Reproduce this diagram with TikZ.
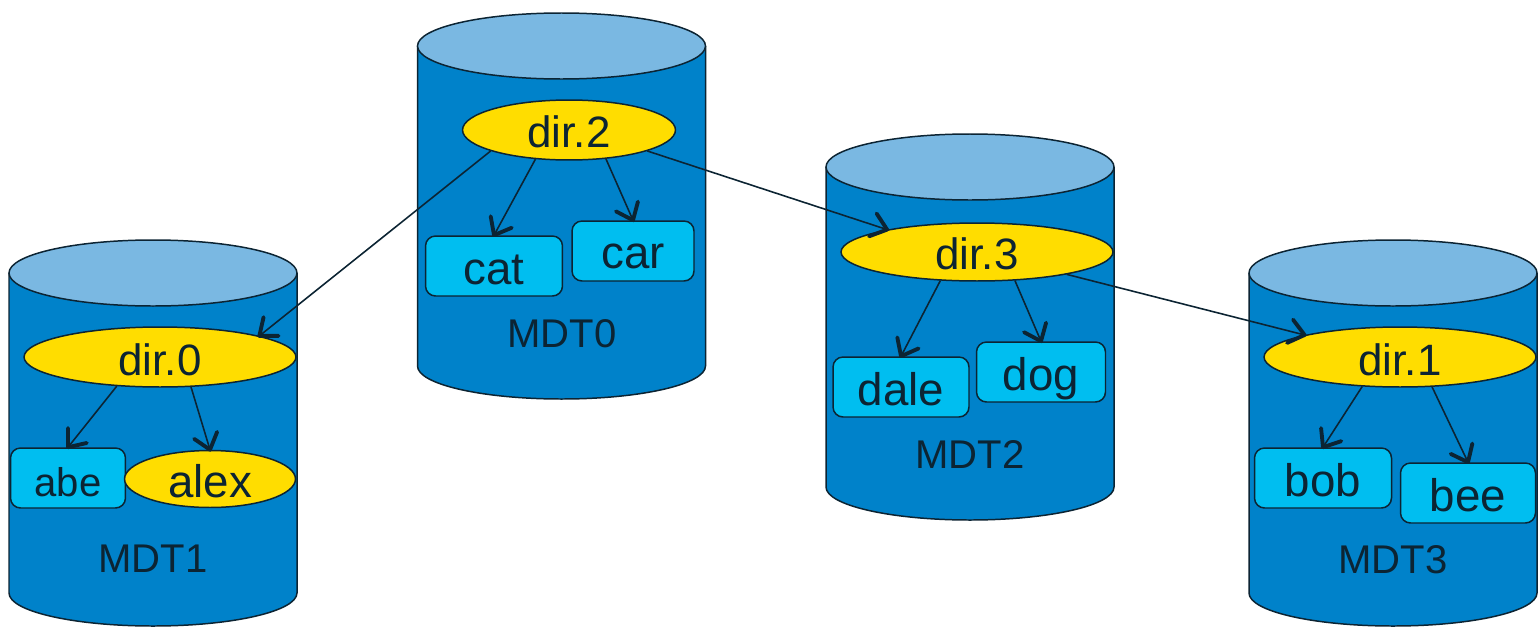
\documentclass[tikz,border=0pt]{standalone}
\usepackage{fontspec}
\setmainfont{Liberation Sans}
\usetikzlibrary{shapes.geometric,decorations.markings}

\definecolor{diskbody}{HTML}{0082CA}
\definecolor{disktop}{HTML}{7AB8E2}
\definecolor{entryfill}{HTML}{00BEF0}
\definecolor{dirfill}{HTML}{FFDD00}
\definecolor{edgeline}{HTML}{0C2433}

\begin{document}
\begin{tikzpicture}[x = 0.02cm, y = 0.02cm,
    disk/.style = {fill=diskbody,draw=edgeline,line width=0.85pt},
    dirnode/.style = {ellipse,draw=edgeline,fill=dirfill,line width=0.85pt,inner sep=0pt,
        minimum height=1.2cm,text height=0.72cm,text depth=0pt,text=edgeline,
        font=\fontsize{25}{30}\selectfont},
    entry/.style = {rectangle,rounded corners=0.2cm,draw=edgeline,fill=entryfill,line width=0.85pt,
        inner sep=0pt,minimum height=1.2cm,text height=0.72cm,text depth=0pt,text=edgeline,
        font=\fontsize{26}{31}\selectfont},
    mdtlabel/.style = {text=edgeline,font=\fontsize{22.8}{27}\selectfont},
    link/.style = {draw=edgeline,line width=0.9pt,postaction={decorate},
        decoration={markings,mark=at position 1 with
            {\draw [draw=edgeline,line width=2.2pt,line cap=round,line join=round]
                (-0.3cm,0.24cm) -- (0,0) -- (-0.3cm,-0.24cm);}}}]

\useasboundingbox (0,0) rectangle (1538,627);

\foreach \cx/\cy in {153/354, 561.5/581, 970/460, 1393/354} {
    \filldraw [disk] (\cx-144,\cy) -- (\cx-144,\cy-320)
        arc [start angle=180,end angle=360,x radius=144,y radius=33] -- (\cx+144,\cy);
    \filldraw [disk,fill=disktop] (\cx,\cy) ellipse [x radius=144,y radius=33];
}

\node [mdtlabel] (mdt1) at (153,68) {MDT1};
\node [dirnode,minimum width=5.44cm] (dir0) at (160,270) {dir.0};
\node [entry,minimum width=2.3cm,font=\fontsize{22.8}{27}\selectfont] (abe) at (68,149) {abe};
\node [dirnode,minimum width=3.42cm,minimum height=1.14cm,font=\fontsize{26}{31}\selectfont] (alex) at (210,148) {alex};

\node [mdtlabel] (mdt0) at (562,293) {MDT0};
\node [dirnode,minimum width=4.26cm] (dir2) at (569,497) {dir.2};
\node [entry,minimum width=2.74cm] (cat) at (494,361) {cat};
\node [entry,minimum width=2.44cm] (car) at (633,376) {car};

\node [mdtlabel] (mdt2) at (970,172) {MDT2};
\node [dirnode,minimum width=5.44cm,minimum height=1.16cm] (dir3) at (977,375) {dir.3};
\node [entry,minimum width=2.72cm] (dale) at (901,240) {dale};
\node [entry,minimum width=2.58cm] (dog) at (1041,255) {dog};

\node [mdtlabel] (mdt3) at (1393,67) {MDT3};
\node [dirnode,minimum width=5.44cm] (dir1) at (1400,270) {dir.1};
\node [entry,minimum width=2.74cm] (bob) at (1323,149) {bob};
\node [entry,minimum width=2.7cm] (bee) at (1468,134) {bee};

\draw [link] (dir0.214) -- (abe.north);
\draw [link] (dir0.-44) -- (alex.north);
\draw [link] (dir2.195) -- (dir0.12);
\draw [link] (dir2.221) -- (cat.north);
\draw [link] (dir2.-38) -- (car.north);
\draw [link] (dir2.-15) -- (dir3.166);
\draw [link] (dir3.218) -- (dale.north);
\draw [link] (dir3.-37) -- (dog.north);
\draw [link] (dir3.-14) -- (dir1.167);
\draw [link] (dir1.218) -- (bob.north);
\draw [link] (dir1.-43) -- (bee.north);
\end{tikzpicture}
\end{document}
